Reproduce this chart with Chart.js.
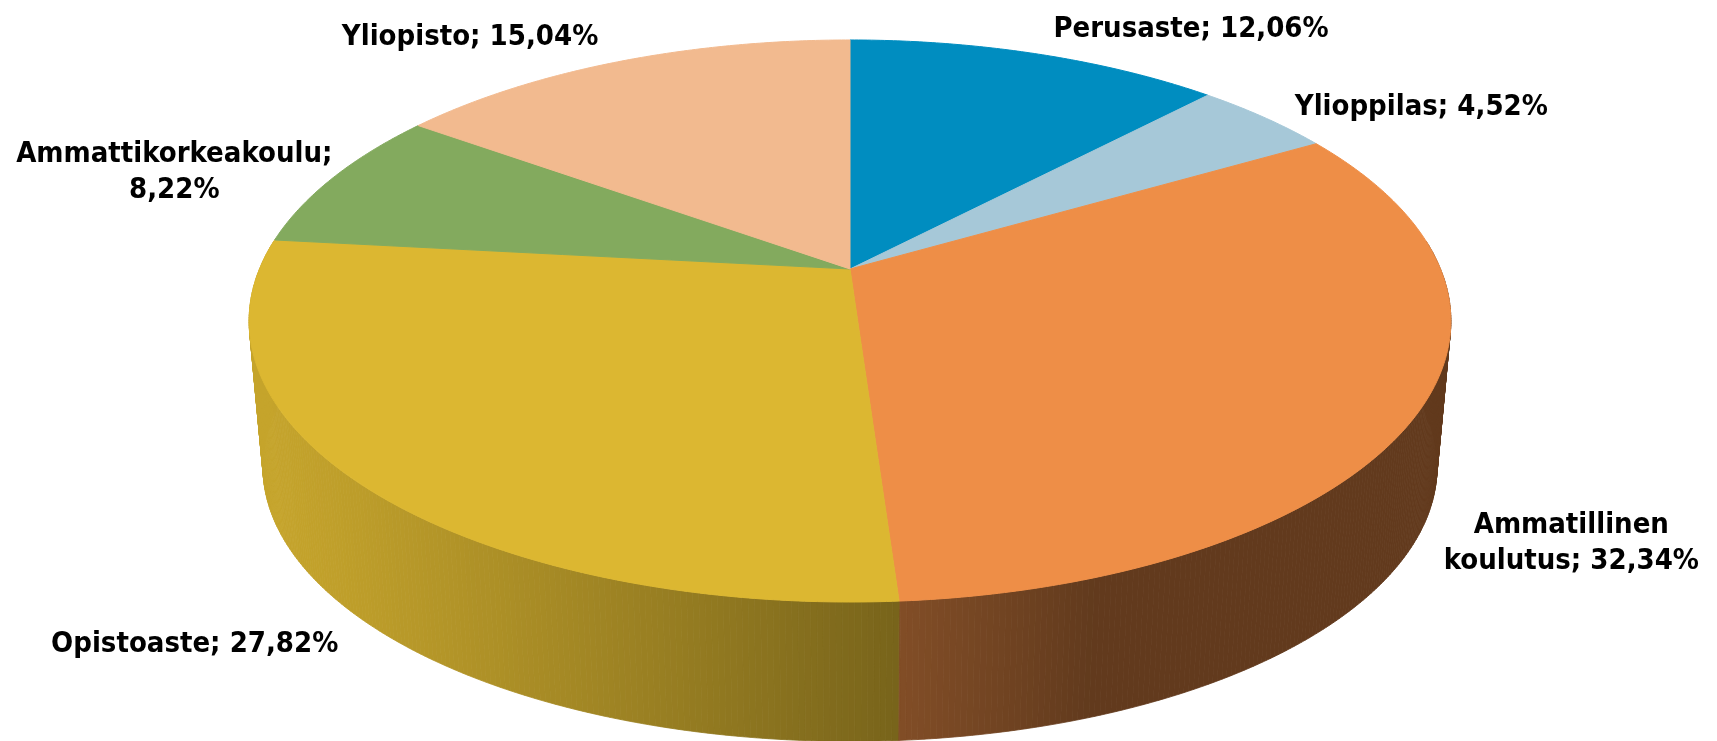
<!DOCTYPE html>
<html>
<head>
<meta charset="utf-8">
<script src="https://cdn.jsdelivr.net/npm/chart.js@4.4.1/dist/chart.umd.min.js"></script>
<style>
  html, body { margin: 0; padding: 0; background: #fff; }
  canvas { display: block; }
</style>
</head>
<body>
<canvas id="pie" width="1717" height="741"></canvas>
<script>
// Koulutustaso, osuudet prosentteina
const categories = ['Perusaste', 'Ylioppilas', 'Ammatillinen koulutus', 'Opistoaste', 'Ammattikorkeakoulu', 'Yliopisto'];
const shares = [12.06, 4.52, 32.34, 27.82, 8.22, 15.04];
const sliceColors = ['#008DC0', '#A6C8D8', '#EE8E47', '#DCB731', '#83AA5E', '#F2BA8F'];

// label placement relative to the rim point at the slice middle: [dx, dy, align]
const labelPlacement = [
    [17, -17, 'left'],
    [30, -3, 'left'],
    [150, 125, 'center'],
    [-23, 168, 'right'],
    [-159, -16, 'center'],
    [-21, -17, 'right']
];

const DEG = Math.PI / 180;

// punto sul bordo del disco in prospettiva (sopra o sotto)
function rim(g, ang, bottom) {
    const s = 1 / (1 - g.persp * Math.sin(ang));
    const f = bottom ? g.shrink : 1;
    return {
        x: g.cx + g.rx * f * Math.cos(ang) * s,
        y: g.cy + (bottom ? g.depth : 0) + g.ry * f * Math.sin(ang) * s
    };
}

// luce da sinistra-davanti sulla parete laterale
function shade(hex, ang) {
    const f = 0.41 + 0.486 * Math.max(0, Math.cos(ang - 160 * DEG));
    const n = parseInt(hex.slice(1), 16);
    const r = Math.round(((n >> 16) & 255) * f);
    const gr = Math.round(((n >> 8) & 255) * f);
    const b = Math.round((n & 255) * f);
    return `rgb(${r},${gr},${b})`;
}

function labelText(i) {
    const txt = categories[i] + '; ' + shares[i].toFixed(2).replace('.', ',') + '%';
    if (i === 2 || i === 4) {
        const p = txt.indexOf(' ');
        return [txt.slice(0, p), txt.slice(p + 1)];
    }
    return [txt];
}

const pie3d = {
    id: 'pie3d',
    geom(chart, opts) {
        const arc0 = chart.getDatasetMeta(0).data[0];
        return { cx: arc0.x, cy: arc0.y, rx: opts.rx, ry: opts.ry, persp: opts.persp, depth: opts.depth, shrink: opts.shrink };
    },
    beforeDatasetsDraw(chart, args, opts) {
        const ctx = chart.ctx;
        const g = this.geom(chart, opts);
        const arcs = chart.getDatasetMeta(0).data;
        const step = 0.5 * DEG;

        // pareti laterali (solo la parte davanti)
        const strips = [];
        arcs.forEach((arc, i) => {
            const a0 = Math.max(arc.startAngle, -6 * DEG);
            const a1 = Math.min(arc.endAngle, 186 * DEG);
            for (let a = a0; a < a1; a += step) {
                const b = Math.min(a + step, a1);
                strips.push({ a, b, col: shade(sliceColors[i], (a + b) / 2) });
            }
        });
        strips.sort((p, q) => Math.sin((p.a + p.b) / 2) - Math.sin((q.a + q.b) / 2));
        ctx.save();
        ctx.lineWidth = 0.8;
        ctx.lineJoin = 'round';
        strips.forEach(st => {
            const t0 = rim(g, st.a, false), t1 = rim(g, st.b, false);
            const b1 = rim(g, st.b, true), b0 = rim(g, st.a, true);
            ctx.beginPath();
            ctx.moveTo(t0.x, t0.y);
            ctx.lineTo(t1.x, t1.y);
            ctx.lineTo(b1.x, b1.y);
            ctx.lineTo(b0.x, b0.y);
            ctx.closePath();
            ctx.fillStyle = st.col;
            ctx.strokeStyle = st.col;
            ctx.fill();
            ctx.stroke();
        });

        // faccia superiore
        ctx.lineWidth = 1;
        arcs.forEach((arc, i) => {
            ctx.beginPath();
            ctx.moveTo(g.cx, g.cy);
            const n = Math.max(2, Math.ceil((arc.endAngle - arc.startAngle) / step));
            for (let k = 0; k <= n; k++) {
                const p = rim(g, arc.startAngle + (arc.endAngle - arc.startAngle) * k / n, false);
                ctx.lineTo(p.x, p.y);
            }
            ctx.closePath();
            ctx.fillStyle = sliceColors[i];
            ctx.strokeStyle = sliceColors[i];
            ctx.fill();
            ctx.stroke();
        });
        ctx.restore();
        return false;
    },
    afterDraw(chart, args, opts) {
        const ctx = chart.ctx;
        const g = this.geom(chart, opts);
        const arcs = chart.getDatasetMeta(0).data;
        ctx.save();
        ctx.font = 'bold 29px "DejaVu Sans Condensed", "DejaVu Sans", sans-serif';
        ctx.fillStyle = '#000';
        ctx.textBaseline = 'alphabetic';
        arcs.forEach((arc, i) => {
            const mid = rim(g, (arc.startAngle + arc.endAngle) / 2, false);
            const [dx, dy, align] = labelPlacement[i];
            ctx.textAlign = align;
            labelText(i).forEach((line, j) => {
                ctx.fillText(line, mid.x + dx, mid.y + dy + j * 36);
            });
        });
        ctx.restore();
    }
};

new Chart(document.getElementById('pie'), {
    type: 'pie',
    data: {
        labels: categories,
        datasets: [{
            data: shares,
            backgroundColor: sliceColors,
            borderWidth: 0
        }]
    },
    options: {
        responsive: false,
        animation: false,
        layout: { padding: { left: 0, right: 17, top: 0, bottom: 203 } },
        plugins: {
            legend: { display: false },
            tooltip: { enabled: false },
            pie3d: { rx: 590.5, ry: 271.4, persp: 0.185, depth: 147, shrink: 0.977 }
        }
    },
    plugins: [pie3d]
});
</script>
</body>
</html>
